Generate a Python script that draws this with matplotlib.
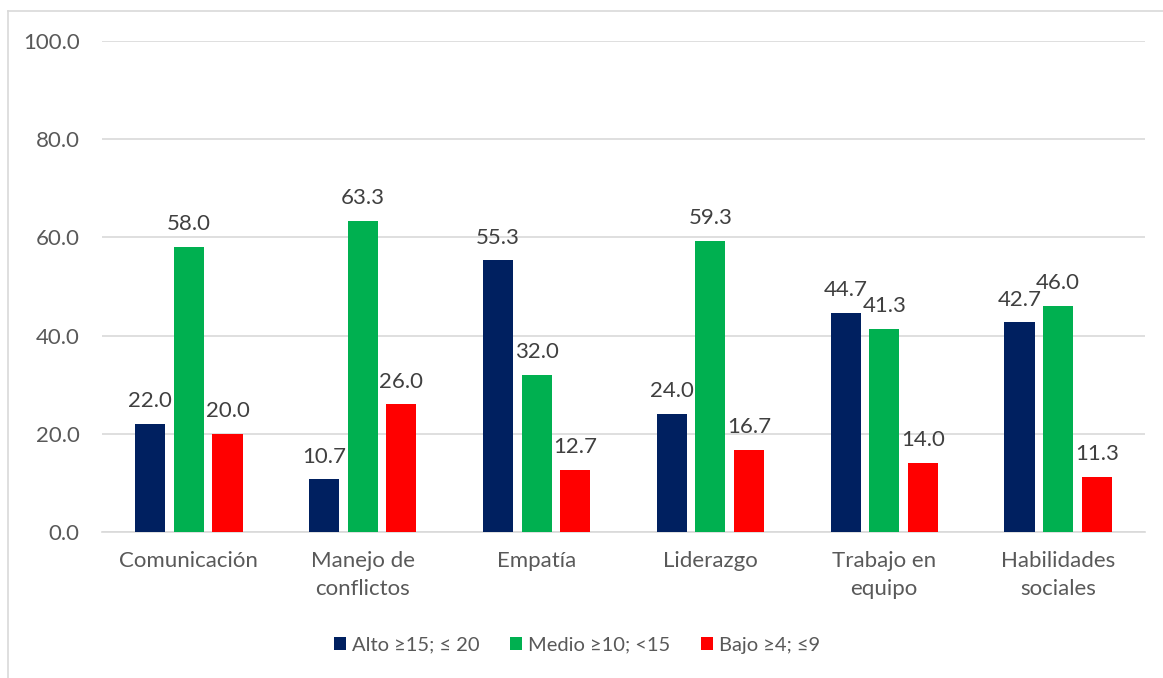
import matplotlib
matplotlib.use("Agg")
import matplotlib.pyplot as plt
import numpy as np
from matplotlib.lines import Line2D

categories = ["Comunicación", "Manejo de\nconflictos", "Empatía", "Liderazgo", "Trabajo en\nequipo", "Habilidades\nsociales"]
series_names = ["Alto ≥15; ≤ 20", "Medio ≥10; <15", "Bajo ≥4; ≤9"]
alto = [22.0, 10.7, 55.3, 24.0, 44.7, 42.7]
medio = [58.0, 63.3, 32.0, 59.3, 41.3, 46.0]
bajo = [20.0, 26.0, 12.7, 16.7, 14.0, 11.3]
colors = ["#002060", "#00B050", "#FF0000"]
yticks = [0, 20, 40, 60, 80, 100]

plt.rcParams['font.family'] = ['Lato', 'DejaVu Sans']
txt = "#595959"
fs = 16
lfs = 14.5

fig = plt.figure(figsize=(11.63, 6.78), dpi=100)
ax = fig.add_axes([102/1163, 1 - 532/678, (1145-102)/1163, (532-41)/678])

x = np.arange(len(categories))
step = 0.222
width = 0.173
for i, (vals, c, name) in enumerate(zip([alto, medio, bajo], colors, series_names)):
    bars = ax.bar(x + (i - 1) * step, vals, width, color=c, label=name, zorder=3)
    for b, v in zip(bars, vals):
        ax.text(b.get_x() + b.get_width() / 2, v + 2.6, f"{v:.1f}", ha="center", va="bottom",
                fontsize=fs, color="#404040")

ax.set_ylim(0, 100)
ax.set_xlim(-0.5, len(categories) - 0.5)
ax.set_yticks(yticks)
ax.set_yticklabels([f"{t:.1f}" for t in yticks], fontsize=fs, color=txt)
ax.set_xticks(x)
ax.set_xticklabels(categories, fontsize=fs, color=txt, linespacing=1.5)
ax.tick_params(axis="both", length=0)
ax.tick_params(axis="y", pad=16)
ax.tick_params(axis="x", pad=14)
ax.grid(axis="y", color="#D9D9D9", linewidth=1.2, zorder=0)
for s in ["top", "right", "left"]:
    ax.spines[s].set_visible(False)
ax.spines["bottom"].set_color("#D9D9D9")
ax.spines["bottom"].set_linewidth(1.2)

leg = fig.legend(loc="center", bbox_to_anchor=(577/1163, 1 - 645/678), ncol=3, frameon=False,
                 fontsize=lfs, handlelength=0.6, handleheight=0.6, handletextpad=0.3,
                 columnspacing=1.5)
for t in leg.get_texts():
    t.set_color(txt)

# outer chart border (partial, as in reference)
fig.add_artist(Line2D([8/1163, 1], [1 - 11/678, 1 - 11/678], color="#D9D9D9", lw=1.2, transform=fig.transFigure))
fig.add_artist(Line2D([8/1163, 8/1163], [0, 1 - 11/678], color="#D9D9D9", lw=1.2, transform=fig.transFigure))

fig.savefig("out.png", dpi=100, facecolor="white")
